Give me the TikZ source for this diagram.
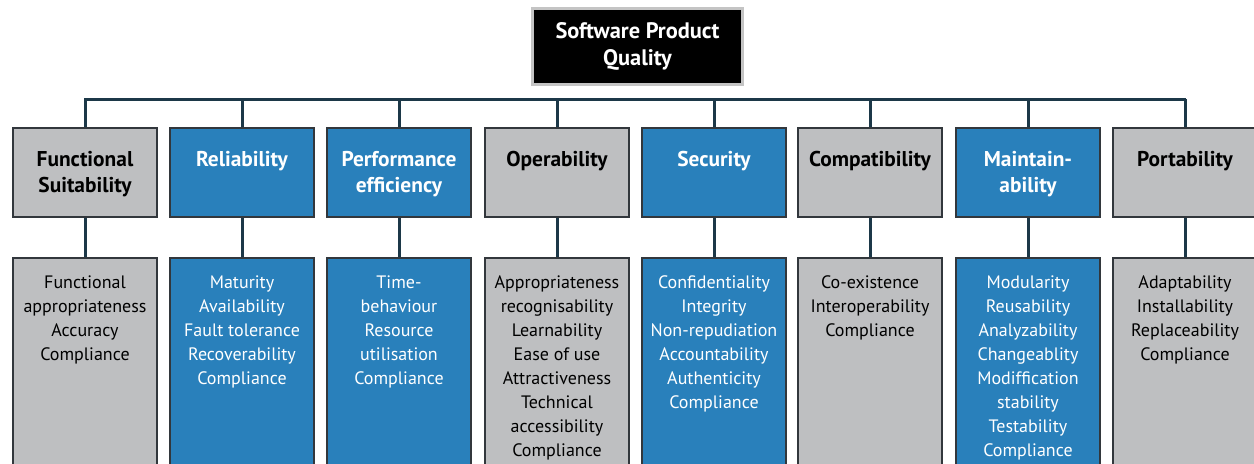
\documentclass[tikz,border=0pt]{standalone}
\usepackage{fontspec}
\setmainfont{PT Sans}
\definecolor{qblue}{RGB}{41,128,187}
\definecolor{qgrey}{RGB}{190,191,193}
\definecolor{qline}{RGB}{28,56,72}
\definecolor{qborder}{RGB}{50,55,60}
\definecolor{qtitleborder}{RGB}{196,196,196}
\newcommand\cattext[1]{\parbox[c][44.5pt][t]{72pt}{\centering\fontsize{10.7}{13}\selectfont\bfseries\rule{0pt}{19.2pt}#1}}
\newcommand\subtext[1]{\parbox[c][120pt][t]{72pt}{\centering\fontsize{9}{12}\selectfont\rule{0pt}{15.3pt}#1}}
\begin{document}
\begin{tikzpicture}[x=0.5pt,y=-0.5pt,
  box/.style={draw=qborder, line width=1pt, inner sep=0pt, anchor=north},
  greybox/.style={box, fill=qgrey, text=black},
  bluebox/.style={box, fill=qblue, text=white},
  conn/.style={draw=qline, line width=1.5pt},
  titlebox/.style={fill=black, draw=qtitleborder, line width=1.5pt, text=white,
    minimum width=105pt, minimum height=38pt, inner sep=0pt, align=center,
    font=\fontsize{11.2}{13.5}\selectfont\bfseries}]
\clip (0,0) rectangle (1254,463);
\fill[white] (0,0) rectangle (1254,463);

\node[titlebox] (title) at (637.5,46.5) {Software Product\\Quality};

% category boxes
\node[greybox] (c1) at (85,127)    {\cattext{Functional\\Suitability}};
\node[bluebox] (c2) at (242,127)   {\cattext{Reliability}};
\node[bluebox] (c3) at (399,127)   {\cattext{Performance\\efficiency}};
\node[greybox] (c4) at (557,127)   {\cattext{Operability}};
\node[bluebox] (c5) at (714,127)   {\cattext{Security}};
\node[greybox] (c6) at (870,127)   {\cattext{Compatibility}};
\node[bluebox] (c7) at (1028,127)  {\cattext{Maintain-\\ability}};
\node[greybox] (c8) at (1185,127)  {\cattext{Portability}};

% sub-characteristic boxes
\node[greybox] (s1) at (85,257)   {\subtext{Functional\\appropriateness\\Accuracy\\Compliance}};
\node[bluebox] (s2) at (242,257)  {\subtext{Maturity\\Availability\\Fault tolerance\\Recoverability\\Compliance}};
\node[bluebox] (s3) at (399,257)  {\subtext{Time-\\behaviour\\Resource\\utilisation\\Compliance}};
\node[greybox] (s4) at (557,257)  {\subtext{Appropriateness\\recognisability\\Learnability\\Ease of use\\Attractiveness\\Technical\\accessibility\\Compliance}};
\node[bluebox] (s5) at (714,257)  {\subtext{Confidentiality\\Integrity\\Non-repudiation\\Accountability\\Authenticity\\Compliance}};
\node[greybox] (s6) at (870,257)  {\subtext{Co-existence\\Interoperability\\Compliance}};
\node[bluebox] (s7) at (1028,257) {\subtext{Modularity\\Reusability\\Analyzability\\Changeablity\\Modiffication\\stability\\Testability\\Compliance}};
\node[greybox] (s8) at (1185,257) {\subtext{Adaptability\\Installability\\Replaceability\\Compliance}};

% connectors
\coordinate (barL) at (84,99);
\coordinate (barR) at (1186,99);
\draw[conn] (barL) -- (barR);
\foreach \i in {1,...,8}{
  \draw[conn] (c\i.north) -- (c\i.north |- barL);
  \draw[conn] (c\i.south) -- (s\i.north);
}
\end{tikzpicture}
\end{document}
